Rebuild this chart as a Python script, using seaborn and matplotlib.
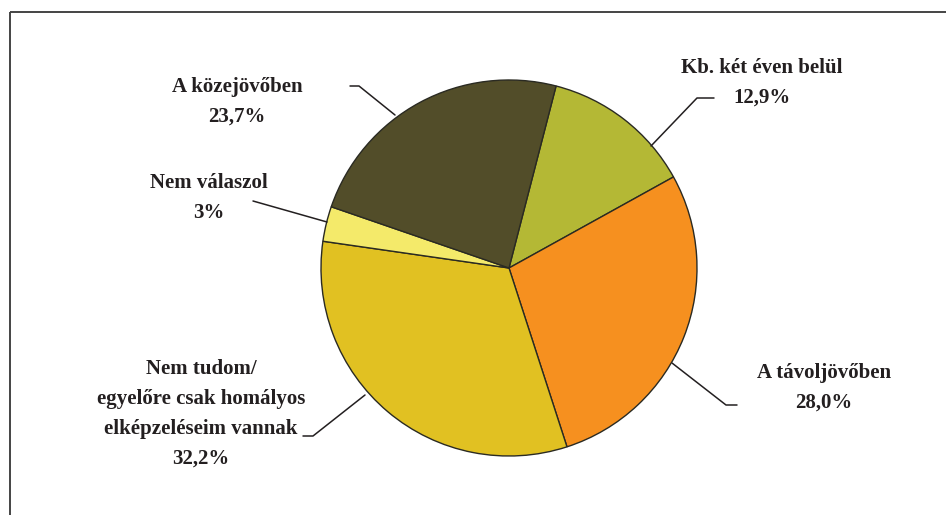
import matplotlib
matplotlib.use("Agg")
import matplotlib.pyplot as plt
import seaborn as sns

# adatok
labels = ['Kb. két éven belül', 'A távoljövőben',
          'Nem tudom/\negyelőre csak homályos\nelképzeléseim vannak',
          'Nem válaszol', 'A közejövőben']
pct_text = ['12,9%', '28,0%', '32,2%', '3%', '23,7%']
values = [12.9, 28.0, 32.2, 3.0, 23.7]
colors = ['#B4B835', '#F6901F', '#E1C122', '#F4EA6A', '#524D29']

sns.set_theme(style='white')
plt.rcParams['font.family'] = ['Liberation Serif', 'DejaVu Serif']

W, H = 946, 515
fig = plt.figure(figsize=(W / 100, H / 100), dpi=100)
ax = fig.add_axes([0, 0, 1, 1])

def py(y):
    # pixel y (felülről) -> adat y
    return H - y

ax.pie(values, colors=colors, startangle=75.5, counterclock=False,
       center=(509, py(268)), radius=188, normalize=True,
       wedgeprops=dict(edgecolor='#2a2a22', linewidth=1.0))

ax.set_xlim(0, W)
ax.set_ylim(0, H)
ax.set_aspect('equal')
ax.axis('off')

# keret
ax.plot([10, W], [py(12), py(12)], color='#444444', lw=1.4, solid_capstyle='butt')
ax.plot([10, 10], [py(12), 0], color='#444444', lw=1.4, solid_capstyle='butt')

# feliratok
txt = dict(fontsize=15, fontweight='bold', color='#231F20', ha='center',
           va='center', linespacing=1.66)
label_pos = [(762, 83), (824, 388), (201, 414), (209, 198), (237, 102)]
for lab, p, (x, y) in zip(labels, pct_text, label_pos):
    ax.text(x, py(y), lab + '\n' + p, **txt)

# vezető vonalak
leaders = [
    [(651, 146), (697, 98), (714, 98)],
    [(672, 363), (726, 405), (737, 405)],
    [(365, 395), (313, 436), (303, 436)],
    [(327, 222), (253, 201)],
    [(395, 115), (359, 86), (350, 86)],
]
for pts in leaders:
    ax.plot([p[0] for p in pts], [py(p[1]) for p in pts], color='#231F20', lw=1.1)

plt.savefig('out.png', dpi=100)
